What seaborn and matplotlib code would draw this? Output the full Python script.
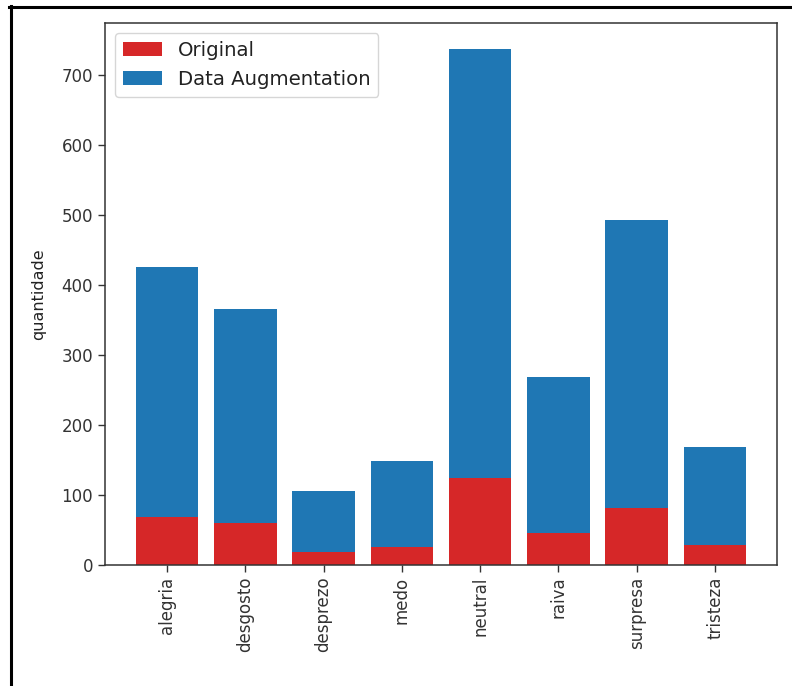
import matplotlib
matplotlib.use("Agg")
import matplotlib.pyplot as plt
from matplotlib.lines import Line2D
import seaborn as sns
import pandas as pd

# Emotion classes and sample counts per class
emocoes = ["alegria", "desgosto", "desprezo", "medo", "neutral", "raiva", "surpresa", "tristeza"]
original = [69, 60, 18, 25, 124, 45, 81, 28]
total_aumentado = [426, 366, 106, 149, 737, 268, 492, 169]

cor_original = "#d62728"
cor_aumento = "#1f77b4"

df = pd.DataFrame({
    "emocao": emocoes,
    "original": original,
    "total": total_aumentado,
})

plt.rcParams["font.family"] = ["DejaVu Sans"]
plt.rcParams["text.color"] = "#222222"
plt.rcParams["axes.labelcolor"] = "#222222"
plt.rcParams["xtick.color"] = "#333333"
plt.rcParams["ytick.color"] = "#333333"

fig = plt.figure(figsize=(7.92, 6.86), dpi=100)
ax = fig.add_axes([105 / 792, 1 - 565 / 686, 672 / 792, 542 / 686])

# Full bar (original + augmented) with the original share drawn over it
sns.barplot(data=df, x="emocao", y="total", color=cor_aumento, saturation=1,
            width=0.8, label="Data Augmentation", ax=ax)
sns.barplot(data=df, x="emocao", y="original", color=cor_original, saturation=1,
            width=0.8, label="Original", ax=ax)

ax.set_xlim(-0.79, len(emocoes) - 1 + 0.79)
ax.set_ylim(0, max(total_aumentado) * 1.05)
ax.set_xlabel("")
ax.set_ylabel("quantidade", fontsize=11.5, labelpad=11)
ax.tick_params(axis="both", labelsize=12, length=5, width=1)
ax.tick_params(axis="x", labelrotation=90)
for s in ax.spines.values():
    s.set_linewidth(1.1)
    s.set_color("#333333")

handles, labels = ax.get_legend_handles_labels()
order = [labels.index("Original"), labels.index("Data Augmentation")]
ax.legend([handles[i] for i in order], [labels[i] for i in order],
          loc="upper left", fontsize=14.2, handlelength=2.0)

# Page frame around the figure
fig.add_artist(Line2D([10.5 / 792, 10.5 / 792], [0, 1 - 6 / 686],
                      transform=fig.transFigure, color="black", linewidth=2.2))
fig.add_artist(Line2D([9 / 792, 1], [1 - 7 / 686, 1 - 7 / 686],
                      transform=fig.transFigure, color="black", linewidth=2.2))

fig.savefig("out.png", dpi=100)
